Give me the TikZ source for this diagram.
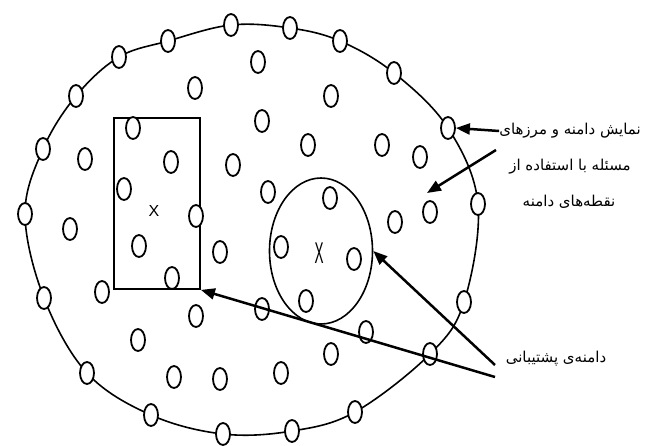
\documentclass[tikz,border=0pt]{standalone}
\usepackage{fontspec}
\setmainfont{Liberation Sans}
\newfontfamily\arabicfont[Script=Arabic]{DejaVu Sans}
\TeXXeTstate=1
\usetikzlibrary{arrows.meta,shapes.geometric,backgrounds}

\tikzset{
  pnt/.style={ellipse,draw,line width=1.8pt,fill=white,minimum width=14pt,minimum height=22pt,inner sep=0pt},
  ptr/.style={-{Triangle[length=14pt,width=11pt]},line width=2.5pt},
  fa/.style={font=\arabicfont\fontsize{15}{17}\selectfont,inner sep=0pt}
}

\begin{document}
\begin{tikzpicture}[x=1pt,y=-1pt]
\useasboundingbox (0,0) rectangle (654,445);
% points on the border of the domain
\node[pnt] (b1) at (25,214) {};
\node[pnt] (b2) at (43,149) {};
\node[pnt] (b3) at (76,96) {};
\node[pnt] (b4) at (119,57) {};
\node[pnt] (b5) at (168,41) {};
\node[pnt] (b6) at (231,25) {};
\node[pnt] (b7) at (290,28) {};
\node[pnt] (b8) at (340,41) {};
\node[pnt] (b9) at (394,73) {};
\node[pnt] (b10) at (448,128) {};
\node[pnt] (b11) at (478,204) {};
\node[pnt] (b12) at (464,302) {};
\node[pnt] (b13) at (430,354) {};
\node[pnt] (b14) at (355,412) {};
\node[pnt] (b15) at (292,431) {};
\node[pnt] (b16) at (223,434) {};
\node[pnt] (b17) at (151,415) {};
\node[pnt] (b18) at (87,373) {};
\node[pnt] (b19) at (44,298) {};
\begin{pgfonlayer}{background}
\draw[line width=1.6pt] plot[smooth cycle,tension=0.6] coordinates {(b1.center) (b2.center) (b3.center) (b4.center) (b5.center) (b6.center) (b7.center) (b8.center) (b9.center) (b10.center) (b11.center) (b12.center) (b13.center) (b14.center) (b15.center) (b16.center) (b17.center) (b18.center) (b19.center)};
\end{pgfonlayer}
% support domains
\node[draw,line width=1.8pt,minimum width=86pt,minimum height=171pt,inner sep=0pt] (rect) at (157,203.5) {};
\node[ellipse,draw,line width=1.6pt,minimum width=103pt,minimum height=146pt,inner sep=0pt] (supp) at (321,251) {};
\node[font=\fontsize{16}{16}\selectfont] (xr) at (154,211) {X};
\node[font=\fontsize{30}{30}\selectfont] (xc) at (319,253) {\scalebox{0.45}[1]{X}};
% points inside the domain
\node[pnt] (p1) at (258,62) {};
\node[pnt] (p2) at (195,88) {};
\node[pnt] (p3) at (331,96) {};
\node[pnt] (p4) at (262,121) {};
\node[pnt] (p5) at (133,128) {};
\node[pnt] (p6) at (308,145) {};
\node[pnt] (p7) at (382,145) {};
\node[pnt] (p8) at (85,159) {};
\node[pnt] (p9) at (171,162) {};
\node[pnt] (p10) at (420,157) {};
\node[pnt] (p11) at (233,165) {};
\node[pnt] (p12) at (124,189) {};
\node[pnt] (p13) at (330,198) {};
\node[pnt] (p14) at (268,192) {};
\node[pnt] (p15) at (430,212) {};
\node[pnt] (p16) at (196,216) {};
\node[pnt] (p17) at (395,222) {};
\node[pnt] (p18) at (70,229) {};
\node[pnt] (p19) at (139,246) {};
\node[pnt] (p20) at (220,252) {};
\node[pnt] (p21) at (281,247) {};
\node[pnt] (p22) at (354,259) {};
\node[pnt] (p23) at (172,278) {};
\node[pnt] (p24) at (102,292) {};
\node[pnt] (p25) at (306,301) {};
\node[pnt] (p26) at (262,309) {};
\node[pnt] (p27) at (196,316) {};
\node[pnt] (p28) at (138,340) {};
\node[pnt] (p29) at (366,332) {};
\node[pnt] (p30) at (331,354) {};
\node[pnt] (p31) at (174,377) {};
\node[pnt] (p32) at (220,379) {};
\node[pnt] (p33) at (281,373) {};
% labels
\node[fa] (t1) at (570,131) {\beginR نمایش دامنه و مرزهای\endR};
\node[fa] (t2) at (570,167) {\beginR مسئله با استفاده از\endR};
\node[fa] (t3) at (569,202) {\beginR نقطه‌های دامنه\endR};
\node[fa] (t4) at (556,359) {\beginR دامنه‌ی پشتیبانی\endR};
\coordinate (s1) at (496,150);
\coordinate (e1) at (427,193);
\coordinate (s2) at (495,365);
\coordinate (s3) at (495,377);
% arrows
\draw[ptr] (t1.west) -- (b10.east);
\draw[ptr] (s1) -- (e1);
\draw[ptr] (s2) -- (supp.east);
\draw[ptr] (s3) -- (rect.south east);
\end{tikzpicture}
\end{document}
